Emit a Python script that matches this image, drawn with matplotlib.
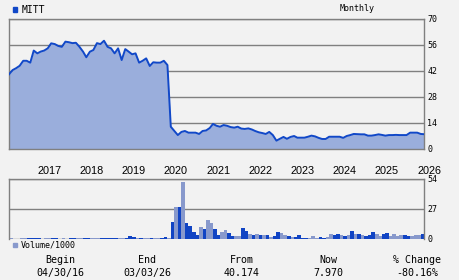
import matplotlib
matplotlib.use("Agg")
import matplotlib.pyplot as plt
import matplotlib.dates as mdates
from matplotlib.patches import Rectangle
import numpy as np
import pandas as pd

# monthly closes, May 2016 .. Mar 2026
months = pd.date_range("2016-05-01", periods=119, freq="MS")
prices = [
    40.2, 42.5, 43.5, 44.8, 47.5, 47.5, 46.5, 53.0, 51.5, 52.5,
    53.0, 54.2, 56.9, 56.5, 55.5, 55.0, 57.8, 57.5, 57.0, 57.2,
    55.0, 52.4, 49.4, 52.4, 53.3, 57.0, 56.5, 58.3, 55.0, 54.2,
    51.5, 54.2, 47.9, 53.8, 52.5, 51.0, 51.5, 46.5, 47.5, 48.8,
    44.7, 46.7, 46.5, 46.5, 47.5, 45.2, 12.0, 9.7, 7.5, 9.2,
    9.7, 8.8, 8.8, 8.8, 8.1, 9.7, 10.0, 11.3, 13.5, 12.5,
    12.0, 12.9, 12.5, 11.8, 11.5, 12.0, 11.0, 10.8, 11.1, 10.5,
    9.7, 9.0, 8.6, 8.1, 9.2, 7.5, 4.5, 5.5, 6.5, 5.5,
    6.5, 7.0, 6.1, 6.1, 6.1, 6.6, 7.2, 6.8, 6.0, 5.4,
    5.4, 6.6, 6.6, 6.6, 6.6, 6.0, 7.0, 7.5, 8.1, 8.0,
    7.9, 7.9, 7.2, 7.2, 7.5, 7.9, 7.6, 7.2, 7.5, 7.5,
    7.6, 7.5, 7.5, 7.5, 8.8, 8.8, 8.8, 8.1, 7.97,
]

# volume / 1000, one bar per month
volume = [
    0.6, 0.3, 0.3, 0.6, 0.6, 0.9, 0.6, 0.6, 0.6, 0.3,
    0.6, 0.6, 0.9, 0.9, 0.3, 0.6, 0.3, 0.6, 0.6, 0.6,
    0.6, 0.6, 0.6, 0.6, 0.6, 0.6, 0.9, 0.9, 0.9, 0.9,
    0.9, 0.6, 0.5, 0.9, 2.4, 1.5, 0.9, 0.9, 0.9, 0.9,
    0.9, 0.9, 0.9, 0.9, 1.8, 0.9, 15.0, 28.5, 28.5, 51.0,
    14.0, 11.4, 6.0, 3.3, 10.5, 8.7, 16.8, 14.0, 8.7, 3.3,
    6.0, 7.8, 5.1, 2.4, 2.4, 2.4, 9.6, 6.9, 4.2, 3.3,
    4.2, 3.3, 3.3, 3.3, 1.5, 2.4, 6.0, 5.1, 3.3, 2.4,
    1.5, 1.5, 3.3, 0.6, 0.6, 0.6, 2.4, 0.6, 1.5, 0.6,
    1.5, 4.2, 3.3, 4.2, 3.3, 2.4, 3.3, 6.9, 4.2, 4.2,
    3.3, 2.4, 3.3, 6.0, 4.2, 2.4, 4.2, 5.1, 2.4, 4.2,
    2.4, 3.3, 3.3, 2.4, 2.4, 3.3, 3.3, 4.2,
]
# d = dark bar, l = light bar
vol_shade = ("lldllddddl" "llddlllddl" "lddllldddd" "dlldddldll" "dllddldldl"
             "ddddldlldd" "llddllddld" "ldldlddlld" "lddddllldd" "llddldldld"
             "ldddllddll" "llddllld")

year_labels = [str(y) for y in range(2017, 2027)]
price_ticks = [0, 14, 28, 42, 56, 70]
vol_ticks = [0, 27, 54]
summary_heads = ["Begin", "End", "From", "Now", "% Change"]
summary_vals = ["04/30/16", "03/03/26", "40.174", "7.970", "-80.16%"]

BG = "#f2f2f2"
GRID = "#808080"
LINE = "#1148c8"
FILL = "#9aaedc"
DARK = "#1144c4"
LIGHT = "#8899cc"
MONO = "DejaVu Sans Mono"

W, H = 460, 280
fig = plt.figure(figsize=(W / 100, H / 100), dpi=100, facecolor=BG)


def fx(px):
    return px / W


def fy(py):
    return 1 - py / H


ax = fig.add_axes([fx(9), fy(149), fx(424) - fx(9), fy(19) - fy(149)], facecolor=BG)
axv = fig.add_axes([fx(9), fy(239), fx(424) - fx(9), fy(179) - fy(239)], facecolor=BG)

x = mdates.date2num(months)

# price panel
ax.fill_between(x, 0, prices, color=FILL, lw=0, zorder=2)
ax.plot(x, prices, color=LINE, lw=1.4, zorder=3)
ax.set_xlim(x[0], x[-1])
ax.set_ylim(0, 70)
ax.set_yticks(price_ticks)
ax.grid(axis="y", color=GRID, lw=1, zorder=1)
ax.set_axisbelow(True)
ax.set_xticks([])

# volume panel
xv = x[:len(volume)]
widths = np.diff(x)[:len(volume)]
colors = [DARK if c == "d" else LIGHT for c in vol_shade]
axv.bar(xv, volume, width=widths, align="edge", color=colors, lw=0, zorder=2)
axv.set_xlim(x[0], x[-1])
axv.set_ylim(0, 54)
axv.set_yticks(vol_ticks)
axv.grid(axis="y", color=GRID, lw=1, zorder=1)
axv.set_axisbelow(True)
axv.set_xticks([])
axv.spines["bottom"].set_visible(False)

for a in (ax, axv):
    for s in a.spines.values():
        s.set_color(GRID)
        s.set_linewidth(1)
    a.yaxis.tick_right()
    a.tick_params(axis="y", length=0, pad=2.5, labelsize=6, labelcolor="black")
    for t in a.get_yticklabels():
        t.set_fontfamily(MONO)

# year labels, left edge at Jan 1
for lab in year_labels:
    xd = mdates.date2num(pd.Timestamp(f"{lab}-01-01"))
    ax.text(xd, (149 - 174) / 130, lab, transform=ax.get_xaxis_transform(),
            ha="left", va="baseline", fontsize=7.8, family="Liberation Sans",
            clip_on=False)

# header
fig.patches.append(Rectangle((fx(12.7), fy(11.7)), fx(4.6), fy(6.7) - fy(11.7),
                             transform=fig.transFigure, color=LINE))
fig.text(fx(22), fy(12.7), "MITT", family=MONO, fontsize=7, va="baseline")
fig.text(fx(340), fy(11), "Monthly", family=MONO, fontsize=6, va="baseline")

# volume legend
fig.patches.append(Rectangle((fx(12.7), fy(247.3)), fx(4.6), fy(242.7) - fy(247.3),
                             transform=fig.transFigure, color=LIGHT))
fig.text(fx(20.5), fy(247), "Volume/1000", family=MONO, fontsize=6, va="baseline")

# summary row
centers = [60, 147, 242, 328, 417]
for cx, head, val in zip(centers, summary_heads, summary_vals):
    fig.text(fx(cx), fy(262.7), head, family=MONO, fontsize=7.2, ha="center", va="baseline")
    fig.text(fx(cx), fy(276), val, family=MONO, fontsize=7.2, ha="center", va="baseline")

fig.savefig("out.png", dpi=100, facecolor=BG)
